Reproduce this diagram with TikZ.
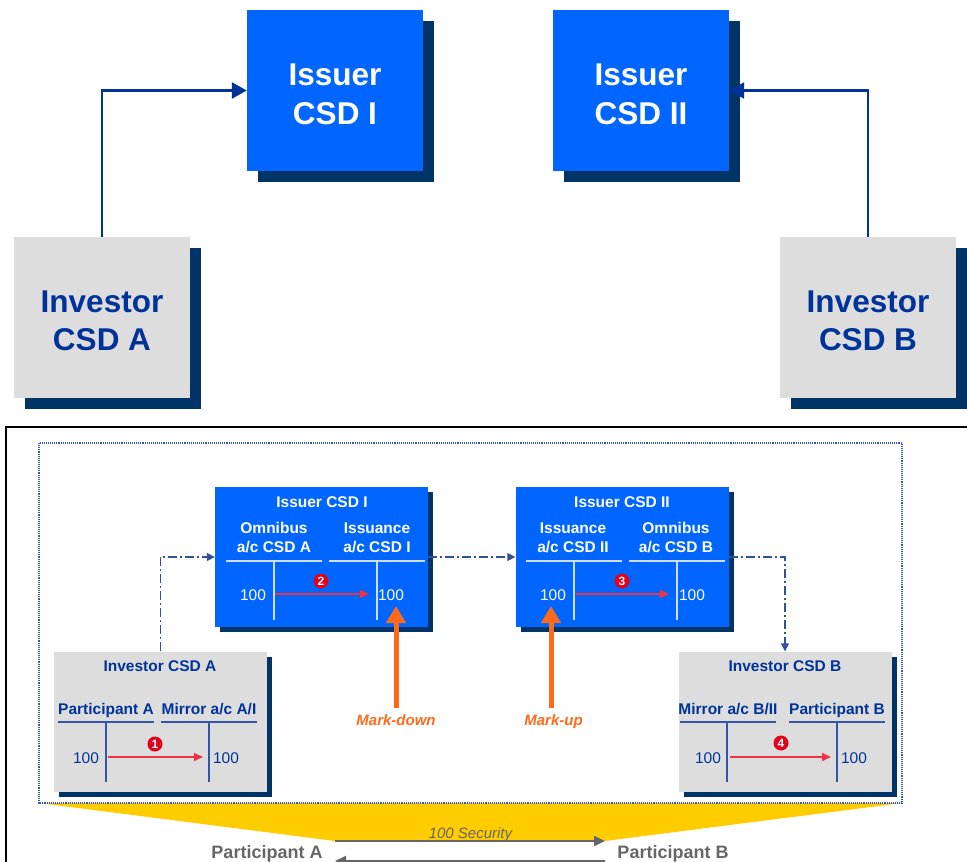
\documentclass[tikz,border=0pt]{standalone}
\usepackage{fontspec}
\setmainfont{Liberation Sans}
\usetikzlibrary{arrows.meta,shadows}
\definecolor{boxblue}{HTML}{0066FF}
\definecolor{shadowblue}{HTML}{003366}
\definecolor{boxgray}{HTML}{DDDDDD}
\definecolor{textblue}{HTML}{003399}
\definecolor{linkblue}{HTML}{34509C}
\definecolor{markorange}{HTML}{FF6A1A}
\definecolor{flowred}{HTML}{EE3344}
\definecolor{dotred}{HTML}{E3001B}
\definecolor{frameyellow}{HTML}{FFCC00}
\definecolor{partgray}{HTML}{666666}
\definecolor{dotblue}{HTML}{3358B8}
\definecolor{tlinewhite}{HTML}{D0DDFF}
\definecolor{tlineblue}{HTML}{3355AA}
\begin{document}
\begin{tikzpicture}[x=1pt,y=-1pt,
  bigbox/.style={minimum width=176pt, minimum height=161pt, inner sep=0pt, align=center,
     font=\fontsize{31.5}{38.5}\selectfont\bfseries},
  issuerbig/.style={bigbox, fill=boxblue, text=white,
     general shadow={fill=shadowblue, shadow xshift=11pt, shadow yshift=-11pt}},
  investorbig/.style={bigbox, fill=boxgray, text=textblue,
     general shadow={fill=shadowblue, shadow xshift=11pt, shadow yshift=-11pt}},
  toparrow/.style={draw=textblue, line width=2.5pt, -{Triangle[length=15pt,width=16pt]}},
  smallbox/.style={minimum width=213pt, minimum height=140pt, inner sep=0pt,
     general shadow={fill=shadowblue, shadow xshift=5pt, shadow yshift=-5pt}},
  issuersmall/.style={smallbox, fill=boxblue},
  investorsmall/.style={smallbox, fill=boxgray},
  wtitle/.style={anchor=base, inner sep=0pt, text=white, font=\fontsize{15.5}{19}\selectfont\bfseries},
  btitle/.style={anchor=base, inner sep=0pt, text=textblue, font=\fontsize{15.5}{19}\selectfont\bfseries},
  wnum/.style={anchor=base, inner sep=0pt, text=white, font=\fontsize{15.5}{19}\selectfont},
  bnum/.style={anchor=base, inner sep=0pt, text=textblue, font=\fontsize{15.5}{19}\selectfont},
  wline/.style={draw=tlinewhite, line width=1.2pt},
  bline/.style={draw=tlineblue, line width=1.2pt},
  flowarrow/.style={draw=flowred, line width=1.5pt, -{Triangle[length=9pt,width=8pt]}},
  numdot/.style={circle, fill=dotred, inner sep=0pt, minimum size=15pt, text=white,
     font=\fontsize{12}{12}\selectfont\bfseries},
  linkarrow/.style={draw=linkblue, line width=1.5pt, dash pattern=on 9pt off 3pt on 2pt off 3pt,
     -{Triangle[length=8pt,width=8pt]}},
  markarrow/.style={draw=markorange, line width=5pt, -{Triangle[length=17pt,width=19pt]}},
  marktext/.style={anchor=base, inner sep=0pt, text=markorange, font=\fontsize{15}{18}\selectfont\bfseries\itshape},
  parttext/.style={anchor=base, inner sep=0pt, text=partgray, font=\fontsize{18}{22}\selectfont\bfseries},
  secarrow/.style={draw=partgray, line width=2pt, -{Triangle[length=11pt,width=10pt]}}
]
\useasboundingbox (0,0) rectangle (967,862);

% ---------- upper diagram ----------
\node[issuerbig] (icsd1) at (335,90.5) {\rule{0pt}{29pt}Issuer\\CSD I};
\node[issuerbig] (icsd2) at (641,90.5) {\rule{0pt}{29pt}Issuer\\CSD II};
\node[investorbig] (inva) at (102,317.5) {\rule{0pt}{28pt}Investor\\CSD A};
\node[investorbig] (invb) at (868,317.5) {\rule{0pt}{28pt}Investor\\CSD B};
\draw[toparrow] (inva.north) |- (icsd1.west);
\draw[toparrow] (invb.north) |- (icsd2.east);

% ---------- lower diagram frame ----------
\draw[line width=2.2pt] (6,875) -- (6,427) -- (975,427);
\fill[frameyellow] (39,803) -- (902,803) -- (605,841) -- (335,841) -- cycle;
\draw[dotblue, line width=1.1pt, densely dotted] (39,443) rectangle (902,803);

% ---------- boxes ----------
\node[issuersmall] (si1) at (321.5,557) {};
\node[issuersmall] (si2) at (622,557) {};
\node[investorsmall] (sa) at (160.5,721.5) {};
\node[investorsmall] (sb) at (785,721.5) {};

% Issuer CSD I contents
\node[wtitle] (si1t) at (322,507) {Issuer CSD I};
\node[wtitle] (si1h1a) at (274,533) {Omnibus};
\node[wtitle] (si1h1b) at (274,552) {a/c CSD A};
\node[wtitle] (si1h2a) at (377,533) {Issuance};
\node[wtitle] (si1h2b) at (377,552) {a/c CSD I};
\draw[wline] (226,561) -- (322,561);
\draw[wline] (329,561) -- (425,561);
\draw[wline] (274,561) -- (274,620);
\draw[wline] (377,561) -- (377,620);
\node[wnum] (si1v1) at (253,600) {100};
\node[wnum] (si1v2) at (391,600) {100};
\coordinate (f2s) at (275,594);
\coordinate (f2e) at (369,594);
\draw[flowarrow] (f2s) -- (f2e);
\node[numdot] (d2) at (321,581) {2};

% Issuer CSD II contents
\node[wtitle] (si2t) at (622,507) {Issuer CSD II};
\node[wtitle] (si2h1a) at (573,533) {Issuance};
\node[wtitle] (si2h1b) at (573,552) {a/c CSD II};
\node[wtitle] (si2h2a) at (676,533) {Omnibus};
\node[wtitle] (si2h2b) at (676,552) {a/c CSD B};
\draw[wline] (526,561) -- (622,561);
\draw[wline] (629,561) -- (725,561);
\draw[wline] (574,561) -- (574,620);
\draw[wline] (677,561) -- (677,620);
\node[wnum] (si2v1) at (553,600) {100};
\node[wnum] (si2v2) at (692,600) {100};
\coordinate (f3s) at (576,594);
\coordinate (f3e) at (669,594);
\draw[flowarrow] (f3s) -- (f3e);
\node[numdot] (d3) at (622,581) {3};

% Investor CSD A contents
\node[btitle] (sat) at (160,671) {Investor CSD A};
\node[btitle] (sah1) at (106,714) {Participant A};
\node[btitle] (sah2) at (209,714) {Mirror a/c A/I};
\draw[bline] (58,722) -- (154,722);
\draw[bline] (161,722) -- (257,722);
\draw[bline] (106,722) -- (106,782);
\draw[bline] (209,722) -- (209,782);
\node[bnum] (sav1) at (86,763) {100};
\node[bnum] (sav2) at (226,763) {100};
\coordinate (f1s) at (108,757);
\coordinate (f1e) at (203,757);
\draw[flowarrow] (f1s) -- (f1e);
\node[numdot] (d1) at (155,744) {1};

% Investor CSD B contents
\node[btitle] (sbt) at (785,671) {Investor CSD B};
\node[btitle] (sbh1) at (728,714) {Mirror a/c B/II};
\node[btitle] (sbh2) at (837,714) {Participant B};
\draw[bline] (680,722) -- (776,722);
\draw[bline] (789,722) -- (885,722);
\draw[bline] (727,722) -- (727,782);
\draw[bline] (837,722) -- (837,782);
\node[bnum] (sbv1) at (708,763) {100};
\node[bnum] (sbv2) at (854,763) {100};
\coordinate (f4s) at (730,757);
\coordinate (f4e) at (831,757);
\draw[flowarrow] (f4s) -- (f4e);
\node[numdot] (d4) at (781,743) {4};

% dash-dot links
\draw[linkarrow] (sa.north) |- (si1.west);
\draw[linkarrow] (si1.east) -- (si2.west);
\draw[linkarrow] (si2.east) -| (sb.north);

% mark-down / mark-up
\coordinate (mdtail) at (396,708);
\coordinate (mdtip) at (396,606);
\coordinate (mutail) at (551,708);
\coordinate (mutip) at (551,606);
\draw[markarrow] (mdtail) -- (mdtip);
\draw[markarrow] (mutail) -- (mutip);
\node[marktext] (mdl) at (396,725) {Mark-down};
\node[marktext] (mul) at (553.5,725) {Mark-up};

% participants
\node[parttext] (pa) at (267,858) {Participant A};
\node[parttext] (pb) at (673,858) {Participant B};
\coordinate (s1a) at (335,841);
\coordinate (s1b) at (605,841);
\coordinate (s2a) at (605,861);
\coordinate (s2b) at (335,861);
\draw[secarrow] (s1a) -- (s1b);
\draw[secarrow] (s2a) -- (s2b);
\node[anchor=base, inner sep=0pt, text=partgray, font=\fontsize{15}{18}\selectfont\itshape] (sec) at (470.5,838) {100 Security};
\end{tikzpicture}
\end{document}
